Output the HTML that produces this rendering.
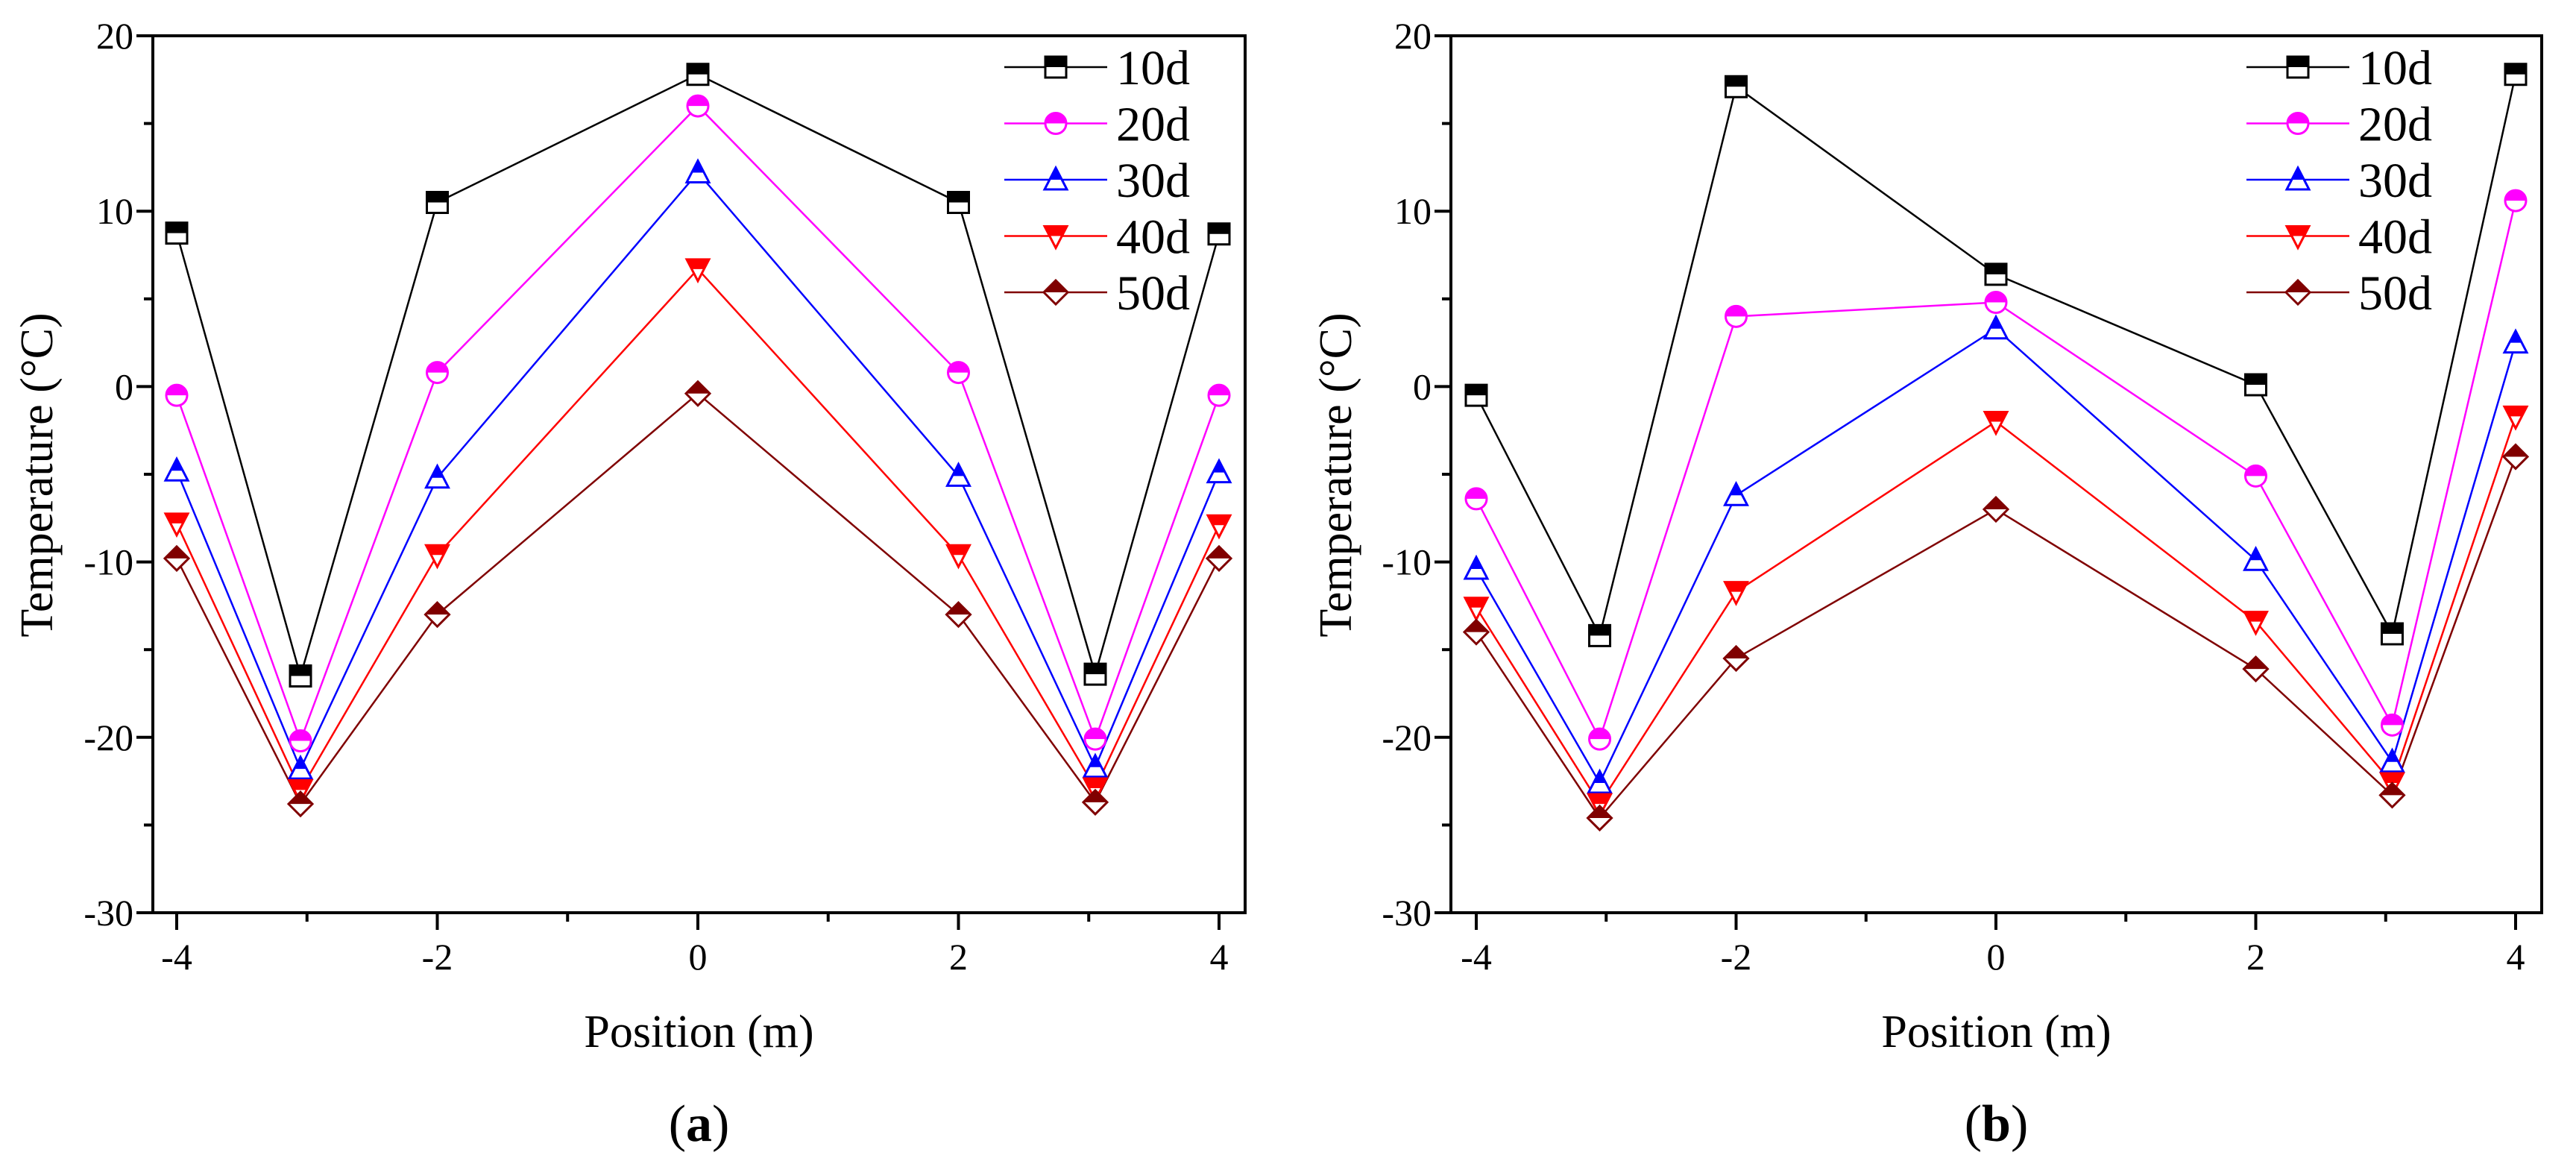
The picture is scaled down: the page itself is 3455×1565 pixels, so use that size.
<!DOCTYPE html>
<html><head><meta charset="utf-8"><style>
html,body{margin:0;padding:0;background:#fff}
svg text{font-family:"Liberation Serif","DejaVu Serif",serif}
</style></head><body>
<svg id="fig" width="3455" height="1560" viewBox="0 0 3455 1560" font-family="Liberation Serif, DejaVu Serif, serif" xmlns="http://www.w3.org/2000/svg"></svg>
<script>
const positions = [-4, -3.05, -2, 0, 2, 3.05, 4];
const seriesNames = ["10d", "20d", "30d", "40d", "50d"];
const seriesColors = ["#000000", "#ff00ff", "#0000ff", "#ff0000", "#800000"];
const seriesMarkers = ["square", "circle", "up", "down", "diamond"];
const a10 = [8.75, -16.5, 10.5, 17.8, 10.5, -16.4, 8.7];
const a20 = [-0.5, -20.2, 0.8, 16.0, 0.8, -20.1, -0.5];
const a30 = [-4.8, -21.8, -5.2, 12.2, -5.1, -21.7, -4.9];
const a40 = [-7.8, -23.0, -9.6, 6.7, -9.6, -22.9, -7.9];
const a50 = [-9.8, -23.8, -13.0, -0.4, -13.0, -23.7, -9.8];
const b10 = [-0.5, -14.2, 17.1, 6.4, 0.1, -14.1, 17.8];
const b20 = [-6.4, -20.1, 4.0, 4.8, -5.1, -19.3, 10.6];
const b30 = [-10.4, -22.6, -6.2, 3.3, -9.9, -21.4, 2.5];
const b40 = [-12.6, -23.8, -11.7, -2.0, -13.4, -22.6, -1.7];
const b50 = [-14.0, -24.6, -15.5, -7.0, -16.1, -23.3, -4.0];
const yTicks = [20, 10, 0, -10, -20, -30];
const yMinor = [15, 5, -5, -15, -25];
const xTicks = [-4, -2, 0, 2, 4];
const xTickLabels = ["-4", "-2", "0", "2", "4"];
const xMinor = [-3, -1, 1, 3];

const NS = "http://www.w3.org/2000/svg";
const svg = document.getElementById("fig");
const FONT = "Liberation Serif, DejaVu Serif, serif";
function el(tag, attrs, parent, text) {
  const e = document.createElementNS(NS, tag);
  for (const k in attrs) e.setAttribute(k, attrs[k]);
  if (tag === "text") e.setAttribute("font-family", FONT);
  if (text !== undefined) e.textContent = text;
  (parent || svg).appendChild(e);
  return e;
}
let clipId = 0;
function marker(g, type, cx, cy, color, name) {
  const s = 14;
  let d;
  if (type === "square") d = `M${cx-s},${cy-s}H${cx+s}V${cy+s}H${cx-s}Z`;
  else if (type === "up") d = `M${cx},${cy-s-2}L${cx+s+1},${cy+s-1}H${cx-s-1}Z`;
  else if (type === "down") d = `M${cx},${cy+s+2}L${cx+s+1},${cy-s+1}H${cx-s-1}Z`;
  else if (type === "diamond") d = `M${cx},${cy-s-2}L${cx+s+2},${cy}L${cx},${cy+s+2}L${cx-s-2},${cy}Z`;
  else d = `M${cx-s},${cy}A${s},${s} 0 1 0 ${cx+s},${cy}A${s},${s} 0 1 0 ${cx-s},${cy}Z`;
  const id = "c" + (clipId++);
  const cp = el("clipPath", {id: id}, g);
  el("rect", {x: cx-30, y: cy-30, width: 60, height: 30}, cp);
  const m = el("g", {}, g);
  
  
  el("path", {d: d, fill: "#fff", stroke: "none"}, m);
  el("path", {d: d, fill: color, stroke: "none", "clip-path": `url(#${id})`}, m);
  el("path", {d: d, fill: "none", stroke: color, "stroke-width": 3}, m);
}
function chart(cfg) {
  const g = el("g", {});
  
  
  const X = v => cfg.x4n + (v + 4) * (cfg.x4p - cfg.x4n) / 8;
  const Y = v => 48 + (20 - v) * (1224 - 48) / 50;
  cfg.data.forEach((arr, si) => {
    const pts = arr.map((v, i) => X(positions[i]) + "," + Y(v)).join(" ");
    const pl = el("polyline", {points: pts, fill: "none", stroke: seriesColors[si], "stroke-width": 2.5}, g);
    
    
  });
  cfg.data.forEach((arr, si) => {
    arr.forEach((v, i) => marker(g, seriesMarkers[si], X(positions[i]), Y(v), seriesColors[si], 'point-' + seriesNames[si]));
  });
  const box = el("rect", {x: cfg.left, y: 48, width: cfg.right - cfg.left, height: 1176, fill: "none", stroke: "#000", "stroke-width": 4}, g);
  
  
  yTicks.forEach(t => {
    el("line", {x1: cfg.left - 22, x2: cfg.left, y1: Y(t), y2: Y(t), stroke: "#000", "stroke-width": 4}, g);
    const tx = el("text", {x: cfg.left - 26, y: Y(t) + 17, "font-size": 50, "text-anchor": "end"}, g, String(t));
    
    
  });
  yMinor.forEach(t => el("line", {x1: cfg.left - 12, x2: cfg.left, y1: Y(t), y2: Y(t), stroke: "#000", "stroke-width": 4}, g));
  xTicks.forEach((t, i) => {
    el("line", {x1: X(t), x2: X(t), y1: 1224, y2: 1247, stroke: "#000", "stroke-width": 4}, g);
    const tx = el("text", {x: X(t), y: 1300, "font-size": 50, "text-anchor": "middle"}, g, xTickLabels[i]);
    
    
  });
  xMinor.forEach(t => el("line", {x1: X(t), x2: X(t), y1: 1224, y2: 1236, stroke: "#000", "stroke-width": 4}, g));
  const xt = el("text", {x: (cfg.left + cfg.right) / 2, y: 1404, "font-size": 62, "text-anchor": "middle"}, g, "Position (m)");
  
  
  const yt = el("text", {x: 0, y: 0, "font-size": 62, "text-anchor": "middle", transform: `translate(${cfg.ytx},637) rotate(-90)`}, g, "Temperature (°C)");
  
  
  const lb = el("text", {x: (cfg.left + cfg.right) / 2, y: 1530, "font-size": 70, "font-weight": "bold", "text-anchor": "middle"}, g);
  
  
  el("tspan", {"font-weight": "normal"}, lb, "(");
  el("tspan", {}, lb, cfg.label);
  el("tspan", {"font-weight": "normal"}, lb, ")");
  const lg = el("g", {}, g);
  
  
  seriesNames.forEach((n, si) => {
    const yy = 90 + si * 75.5;
    const e = el("g", {}, lg);
    
    
    el("line", {x1: cfg.legX, x2: cfg.legX + 138, y1: yy, y2: yy, stroke: seriesColors[si], "stroke-width": 2.5}, e);
    marker(e, seriesMarkers[si], cfg.legX + 69, yy, seriesColors[si], 'legend-marker');
    el("text", {x: cfg.legX + 150, y: yy + 23, "font-size": 66}, e, n);
  });
}
chart({name: "chart-a", left: 205, right: 1670, x4n: 237, x4p: 1635, ytx: 70, legX: 1347, label: "a",
  data: [a10, a20, a30, a40, a50]});
chart({name: "chart-b", left: 1946, right: 3409, x4n: 1980, x4p: 3374, ytx: 1812, legX: 3013, label: "b",
  data: [b10, b20, b30, b40, b50]});
</script>
</body></html>
